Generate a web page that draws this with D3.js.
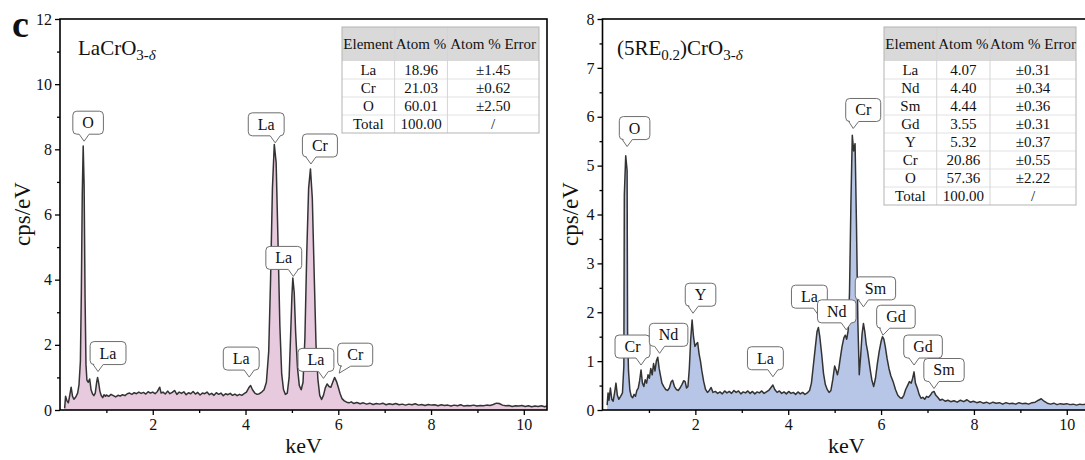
<!DOCTYPE html>
<html>
<head>
<meta charset="utf-8">
<script src="https://cdn.jsdelivr.net/npm/d3@7"></script>
<style>
	body { margin: 0; background: #fff; }
	svg { display: block; font-family: "Liberation Serif", "Times New Roman", serif; }
</style>
</head>
<body>
<div id="wrapper"></div>
<script>
// EDS spectra: [keV, cps/eV]
const laSpectrum = [
	[0.10,0.05],[0.12,0.42],[0.15,0.28],[0.18,0.22],[0.21,0.45],[0.24,0.70],[0.27,0.42],[0.30,0.33],
	[0.34,0.40],[0.38,0.52],[0.41,0.78],[0.44,1.5],[0.46,3.6],[0.48,6.6],[0.50,8.1],[0.52,6.9],
	[0.54,3.5],[0.56,1.4],[0.58,0.92],[0.61,0.85],[0.64,0.95],[0.67,0.62],[0.70,0.50],[0.73,0.44],
	[0.76,0.52],[0.79,0.85],[0.81,1.00],[0.83,0.86],[0.86,0.58],[0.89,0.44],[0.92,0.38],[0.95,0.47],
	[0.98,0.42],[1.00,0.46],[1.05,0.42],[1.10,0.48],[1.15,0.44],[1.20,0.40],[1.25,0.45],[1.30,0.43],
	[1.35,0.47],[1.40,0.44],[1.45,0.50],[1.50,0.52],[1.55,0.48],[1.60,0.53],[1.65,0.50],[1.70,0.55],
	[1.75,0.51],[1.80,0.54],[1.85,0.49],[1.90,0.56],[1.95,0.52],[2.00,0.55],[2.05,0.50],[2.10,0.57],
	[2.15,0.70],[2.18,0.52],[2.22,0.55],[2.27,0.49],[2.32,0.58],[2.37,0.50],[2.42,0.54],[2.47,0.60],
	[2.52,0.48],[2.57,0.55],[2.62,0.51],[2.67,0.56],[2.72,0.47],[2.77,0.53],[2.82,0.50],[2.87,0.57],
	[2.92,0.49],[2.97,0.54],[3.02,0.46],[3.07,0.52],[3.12,0.50],[3.17,0.55],[3.22,0.47],[3.27,0.51],
	[3.32,0.45],[3.37,0.53],[3.42,0.48],[3.47,0.52],[3.52,0.44],[3.57,0.50],[3.62,0.47],[3.67,0.51],
	[3.72,0.45],[3.77,0.49],[3.82,0.44],[3.87,0.48],[3.92,0.45],[3.97,0.50],[4.02,0.55],[4.07,0.68],
	[4.11,0.75],[4.15,0.62],[4.20,0.52],[4.25,0.48],[4.30,0.50],[4.35,0.55],[4.40,0.62],[4.45,0.85],
	[4.50,1.8],[4.54,4.0],[4.58,6.8],[4.62,8.15],[4.66,7.6],[4.70,5.2],[4.74,2.6],[4.78,1.1],
	[4.82,0.62],[4.86,0.48],[4.90,0.52],[4.94,1.0],[4.97,2.2],[5.00,3.5],[5.02,4.05],[5.05,3.6],
	[5.08,2.4],[5.12,1.3],[5.16,0.75],[5.20,0.62],[5.24,0.85],[5.28,2.2],[5.32,4.8],[5.36,6.8],
	[5.40,7.4],[5.44,6.5],[5.48,4.2],[5.52,2.0],[5.56,0.95],[5.60,0.45],[5.64,0.32],[5.68,0.45],
	[5.72,0.68],[5.76,0.80],[5.80,0.72],[5.84,0.70],[5.88,0.85],[5.92,1.00],[5.96,0.88],[6.00,0.70],
	[6.04,0.50],[6.08,0.35],[6.13,0.28],[6.18,0.24],[6.23,0.22],[6.28,0.25],[6.33,0.20],[6.40,0.23],
	[6.47,0.19],[6.54,0.22],[6.61,0.18],[6.68,0.21],[6.75,0.17],[6.82,0.20],[6.89,0.18],[6.96,0.21],
	[7.03,0.16],[7.10,0.19],[7.17,0.17],[7.24,0.20],[7.31,0.16],[7.38,0.18],[7.45,0.15],[7.52,0.18],
	[7.59,0.16],[7.66,0.19],[7.73,0.15],[7.80,0.17],[7.87,0.14],[7.94,0.17],[8.01,0.15],[8.08,0.16],
	[8.15,0.13],[8.22,0.16],[8.29,0.14],[8.36,0.15],[8.43,0.12],[8.50,0.15],[8.57,0.13],[8.64,0.16],
	[8.71,0.12],[8.78,0.14],[8.85,0.13],[8.92,0.15],[8.99,0.12],[9.06,0.14],[9.13,0.13],[9.20,0.15],
	[9.27,0.14],[9.34,0.17],[9.41,0.21],[9.47,0.20],[9.54,0.15],[9.61,0.13],[9.68,0.14],[9.75,0.11],
	[9.82,0.13],[9.89,0.12],[9.96,0.14],[10.03,0.11],[10.10,0.13],[10.17,0.10],[10.24,0.12],[10.31,0.11],
	[10.38,0.13],[10.45,0.10],[10.50,0.12],
];

const reSpectrum = [
	[0.10,0.10],[0.12,0.35],[0.14,0.20],[0.17,0.45],[0.20,0.22],[0.23,0.18],[0.26,0.35],[0.29,0.55],
	[0.32,0.30],[0.35,0.22],[0.39,0.28],[0.43,0.35],[0.46,0.9],[0.47,4.4],[0.50,5.2],[0.53,4.9],
	[0.54,1.6],[0.56,0.8],[0.59,0.40],[0.62,0.28],[0.65,0.25],[0.68,0.32],[0.71,0.28],[0.74,0.40],
	[0.77,0.45],[0.80,0.60],[0.83,0.82],[0.86,0.55],[0.89,0.48],[0.92,0.62],[0.95,0.55],[0.98,0.72],
	[1.01,0.65],[1.04,0.85],[1.07,0.72],[1.10,0.95],[1.13,0.80],[1.16,1.00],[1.19,1.08],[1.22,0.85],
	[1.25,0.70],[1.28,0.55],[1.32,0.48],[1.36,0.42],[1.40,0.40],[1.44,0.45],[1.48,0.58],[1.51,0.61],
	[1.55,0.48],[1.59,0.42],[1.63,0.40],[1.67,0.45],[1.71,0.52],[1.75,0.60],[1.78,0.58],[1.81,0.45],
	[1.84,0.48],[1.87,0.85],[1.90,1.45],[1.93,1.84],[1.96,1.50],[1.99,1.30],[2.02,1.35],[2.05,1.38],
	[2.08,1.15],[2.11,1.00],[2.14,0.80],[2.18,0.58],[2.22,0.42],[2.26,0.36],[2.30,0.40],[2.34,0.46],
	[2.38,0.36],[2.43,0.38],[2.48,0.34],[2.53,0.37],[2.58,0.33],[2.63,0.39],[2.68,0.35],[2.73,0.38],
	[2.78,0.34],[2.83,0.40],[2.88,0.36],[2.93,0.39],[2.98,0.33],[3.03,0.37],[3.08,0.35],[3.13,0.39],
	[3.18,0.34],[3.23,0.38],[3.28,0.33],[3.33,0.37],[3.38,0.35],[3.43,0.39],[3.48,0.34],[3.53,0.37],
	[3.58,0.40],[3.63,0.46],[3.67,0.51],[3.71,0.42],[3.76,0.36],[3.81,0.39],[3.86,0.34],[3.91,0.37],
	[3.96,0.33],[4.01,0.38],[4.06,0.34],[4.11,0.36],[4.16,0.32],[4.21,0.37],[4.26,0.33],[4.31,0.36],
	[4.36,0.32],[4.41,0.35],[4.46,0.40],[4.50,0.55],[4.54,0.90],[4.58,1.25],[4.62,1.60],[4.65,1.69],
	[4.68,1.50],[4.72,1.15],[4.76,0.75],[4.80,0.52],[4.84,0.42],[4.88,0.36],[4.92,0.40],[4.96,0.62],
	[5.00,0.90],[5.03,0.82],[5.06,0.72],[5.09,0.85],[5.12,1.05],[5.16,1.30],[5.20,1.48],[5.23,1.53],
	[5.26,1.45],[5.29,1.62],[5.32,2.4],[5.35,4.2],[5.38,5.62],[5.41,5.3],[5.44,5.45],[5.47,3.8],
	[5.50,1.8],[5.53,0.72],[5.56,1.10],[5.59,1.55],[5.62,1.77],[5.65,1.60],[5.68,1.35],[5.71,1.20],
	[5.74,1.00],[5.77,0.80],[5.80,0.62],[5.84,0.48],[5.88,0.65],[5.92,0.95],[5.96,1.20],[6.00,1.40],
	[6.03,1.50],[6.06,1.45],[6.09,1.30],[6.13,1.05],[6.17,0.85],[6.21,0.70],[6.26,0.58],[6.31,0.42],
	[6.36,0.30],[6.41,0.25],[6.45,0.24],[6.49,0.30],[6.53,0.42],[6.57,0.50],[6.61,0.58],[6.65,0.55],
	[6.68,0.65],[6.71,0.78],[6.74,0.55],[6.78,0.45],[6.82,0.32],[6.86,0.24],[6.90,0.26],[6.94,0.22],
	[6.98,0.28],[7.02,0.26],[7.06,0.30],[7.10,0.36],[7.14,0.38],[7.18,0.30],[7.22,0.26],[7.27,0.20],
	[7.32,0.22],[7.38,0.18],[7.44,0.20],[7.50,0.17],[7.57,0.19],[7.64,0.16],[7.71,0.20],[7.78,0.17],
	[7.85,0.21],[7.92,0.16],[7.99,0.18],[8.06,0.15],[8.13,0.17],[8.20,0.14],[8.27,0.16],[8.34,0.13],
	[8.41,0.16],[8.48,0.14],[8.55,0.15],[8.62,0.12],[8.69,0.15],[8.76,0.13],[8.83,0.14],[8.90,0.12],
	[8.97,0.15],[9.04,0.13],[9.11,0.14],[9.18,0.12],[9.25,0.15],[9.32,0.16],[9.39,0.20],[9.45,0.23],
	[9.51,0.18],[9.58,0.14],[9.65,0.12],[9.72,0.14],[9.79,0.11],[9.86,0.13],[9.93,0.12],[10.00,0.13],
	[10.07,0.11],[10.14,0.12],[10.21,0.10],[10.28,0.12],[10.35,0.11],[10.42,0.12],[10.50,0.10],
];

// peak labels: element, keV and cps/eV of the pointer tip
const laLabels = ["O", "La", "Cr", "La", "La", "La", "La", "Cr"];
const laLabelKeV = [0.52, 4.64, 5.41, 5.03, 0.82, 4.08, 5.68, 6.02];
const laLabelCps = [8.25, 8.2, 7.55, 4.1, 1.18, 1.01, 0.97, 1.13];

const reLabels = ["O", "Cr", "Cr", "Nd", "Y", "La", "La", "Nd", "Sm", "Gd", "Gd", "Sm"];
const reLabelKeV = [0.53, 5.40, 0.83, 1.23, 1.95, 3.67, 4.65, 5.25, 5.62, 6.04, 6.71, 7.14];
const reLabelCps = [5.39, 5.76, 0.92, 1.16, 1.98, 0.68, 1.94, 1.64, 2.11, 1.53, 0.92, 0.44];

// composition tables
const tableHeader = ["Element", "Atom %", "Atom % Error"];
const laElements = ["La", "Cr", "O", "Total"];
const laAtom = ["18.96", "21.03", "60.01", "100.00"];
const laError = ["±1.45", "±0.62", "±2.50", "/"];
const reElements = ["La", "Nd", "Sm", "Gd", "Y", "Cr", "O", "Total"];
const reAtom = ["4.07", "4.40", "4.44", "3.55", "5.32", "20.86", "57.36", "100.00"];
const reError = ["±0.31", "±0.34", "±0.36", "±0.31", "±0.37", "±0.55", "±2.22", "/"];

const xMajorTicks = [2, 4, 6, 8, 10];
const xMinorTicks = [1, 3, 5, 7, 9];
const laYTicks = [0, 2, 4, 6, 8, 10, 12];
const laYMinor = [1, 3, 5, 7, 9, 11];
const reYTicks = [0, 1, 2, 3, 4, 5, 6, 7, 8];
const reYMinor = [0.5, 1.5, 2.5, 3.5, 4.5, 5.5, 6.5, 7.5];

// box offsets of the callouts (box centre minus pointer tip, px)
const laShift = [4, -9, 9, -9.5, 10, -8, -7.5, 16];
const reShift = [7.5, 10, -8.5, 9, 7.5, -7.5, -9, -9.5, 12, 13, 9, 10];

const dimensions = { width: 1085, height: 460, top: 19, bottom: 410 };

const svg = d3
	.select("#wrapper")
	.append("svg")
	.attr("width", dimensions.width)
	.attr("height", dimensions.height);

const panels = [
	{
		id: "la", left: 60, right: 547, yMax: 12,
		yTicks: laYTicks, yMinor: laYMinor,
		data: laSpectrum, fill: "#e8cade",
		labels: laLabels, labelKeV: laLabelKeV, labelCps: laLabelCps, shift: laShift,
		table: { x: 342, widths: [52.6, 52.8, 91.6], cols: [laElements, laAtom, laError] },
		title: [["LaCrO", 0], ["3-", 1], ["δ", 2]],
		titleX: 78, yLabelX: 22,
	},
	{
		id: "re", left: 602.5, right: 1090, yMax: 8,
		yTicks: reYTicks, yMinor: reYMinor,
		data: reSpectrum, fill: "#b7c6e6",
		labels: reLabels, labelKeV: reLabelKeV, labelCps: reLabelCps, shift: reShift,
		table: { x: 884, widths: [52.7, 53.3, 86], cols: [reElements, reAtom, reError] },
		title: [["(5RE", 0], ["0.2", 1], [")CrO", 0], ["3-", 1], ["δ", 2]],
		titleX: 617, yLabelX: 570,
	},
];

const drawPanel = (p) => {
	const xScale = d3.scaleLinear().domain([0, 10.5]).range([p.left, p.right]);
	const yScale = d3.scaleLinear().domain([0, p.yMax]).range([dimensions.bottom, dimensions.top]);

	const g = svg.append("g");

	g.append("clipPath")
		.attr("id", `clip-${p.id}`)
		.append("rect")
		.attr("x", p.left)
		.attr("y", dimensions.top)
		.attr("width", p.right - p.left)
		.attr("height", dimensions.bottom - dimensions.top);

	const plot = g.append("g").attr("clip-path", `url(#clip-${p.id})`);

	const areaGenerator = d3
		.area()
		.x((d) => xScale(d[0]))
		.y0(yScale(0))
		.y1((d) => yScale(d[1]));
	const lineGenerator = d3
		.line()
		.x((d) => xScale(d[0]))
		.y((d) => yScale(d[1]));

	plot.append("path").attr("d", areaGenerator(p.data)).attr("fill", p.fill);
	plot.append("path")
		.attr("d", lineGenerator(p.data))
		.attr("fill", "none")
		.attr("stroke", "#333")
		.attr("stroke-width", 1.5)
		.attr("stroke-linejoin", "round");

	// axes
	const styleAxis = (sel) => {
		sel.select(".domain").remove();
		sel.selectAll("line").attr("stroke", "#000").attr("stroke-width", 1.3);
		sel.selectAll("text")
			.attr("font-family", "'Liberation Serif', serif")
			.attr("font-size", 16)
			.attr("fill", "#111");
	};

	g.append("g")
		.attr("transform", `translate(0, ${dimensions.bottom})`)
		.call(d3.axisBottom(xScale).tickValues(xMajorTicks).tickSize(5).tickPadding(4).tickFormat(d3.format("d")))
		.call(styleAxis);
	g.append("g")
		.attr("transform", `translate(0, ${dimensions.bottom})`)
		.call(d3.axisBottom(xScale).tickValues(xMinorTicks).tickSize(3).tickFormat(""))
		.call(styleAxis);
	g.append("g")
		.attr("transform", `translate(${p.left}, 0)`)
		.call(d3.axisLeft(yScale).tickValues(p.yTicks).tickSize(5).tickPadding(3).tickFormat(d3.format("d")))
		.call(styleAxis);
	g.append("g")
		.attr("transform", `translate(${p.left}, 0)`)
		.call(d3.axisLeft(yScale).tickValues(p.yMinor).tickSize(3).tickFormat(""))
		.call(styleAxis);

	g.append("rect")
		.attr("x", p.left)
		.attr("y", dimensions.top)
		.attr("width", p.right - p.left)
		.attr("height", dimensions.bottom - dimensions.top)
		.attr("fill", "none")
		.attr("stroke", "#000")
		.attr("stroke-width", 1.6);

	// axis titles
	g.append("text")
		.attr("transform", `translate(${p.yLabelX + 8}, 214) rotate(-90)`)
		.attr("text-anchor", "middle")
		.attr("font-size", 23)
		.attr("fill", "#111")
		.text("cps/eV");
	g.append("text")
		.attr("x", (p.left + p.right) / 2)
		.attr("y", 453)
		.attr("text-anchor", "middle")
		.attr("font-size", 22)
		.attr("fill", "#111")
		.text("keV");

	// sample name
	const title = g.append("text").attr("x", p.titleX).attr("y", 55).attr("font-size", 21).attr("fill", "#111");
	let level = 0;
	p.title.forEach(([txt, kind]) => {
		const t = title.append("tspan").text(txt);
		const target = kind === 0 ? 0 : 1;
		if (target !== level) t.attr("dy", target ? 5 : -5);
		level = target;
		if (kind > 0) t.attr("font-size", 15);
		if (kind === 2) t.attr("font-style", "italic");
	});

	// composition table
	const tbl = g.append("g");
	const headH = 34;
	const rowH = 18;
	const nRows = p.table.cols[0].length;
	const tblW = d3.sum(p.table.widths);
	const tblTop = 27;
	const colX = p.table.widths.reduce((acc, w) => [...acc, acc[acc.length - 1] + w], [p.table.x]);

	tbl.append("rect")
		.attr("x", p.table.x).attr("y", tblTop)
		.attr("width", tblW).attr("height", headH + rowH * nRows)
		.attr("fill", "#fff");
	tbl.append("rect")
		.attr("x", p.table.x).attr("y", tblTop)
		.attr("width", tblW).attr("height", headH)
		.attr("fill", "#d9d9d9");
	d3.range(1, nRows).forEach((i) => {
		tbl.append("line")
			.attr("x1", p.table.x).attr("x2", p.table.x + tblW)
			.attr("y1", tblTop + headH + i * rowH).attr("y2", tblTop + headH + i * rowH)
			.attr("stroke", "#e2e2e2");
	});
	colX.slice(1, -1).forEach((cx) => {
		tbl.append("line")
			.attr("x1", cx).attr("x2", cx)
			.attr("y1", tblTop).attr("y2", tblTop + headH + rowH * nRows)
			.attr("stroke", "#d4d4d4");
	});
	tbl.append("rect")
		.attr("x", p.table.x).attr("y", tblTop)
		.attr("width", tblW).attr("height", headH + rowH * nRows)
		.attr("fill", "none")
		.attr("stroke", "#b4b4b4");

	tableHeader.forEach((h, c) => {
		tbl.append("text")
			.attr("x", (colX[c] + colX[c + 1]) / 2)
			.attr("y", tblTop + headH / 2 + 5)
			.attr("text-anchor", "middle")
			.attr("font-size", 15)
			.attr("fill", "#111")
			.text(h);
	});
	p.table.cols.forEach((col, c) => {
		col.forEach((v, r) => {
			tbl.append("text")
				.attr("x", (colX[c] + colX[c + 1]) / 2)
				.attr("y", tblTop + headH + r * rowH + rowH / 2 + 5)
				.attr("text-anchor", "middle")
				.attr("font-size", 15)
				.attr("fill", "#111")
				.text(v);
		});
	});

	// peak callouts
	p.labels.forEach((label, i) => {
		const tipX = xScale(p.labelKeV[i]);
		const tipY = yScale(p.labelCps[i]);
		const cg = g.append("g");
		const shape = cg.append("path");
		const text = cg.append("text")
			.attr("font-size", 16)
			.attr("fill", "#111")
			.attr("text-anchor", "middle")
			.text(label);
		const w = text.node().getComputedTextLength() + 19;
		const h = 23;
		const cx = tipX + p.shift[i];
		const left = cx - w / 2;
		const right = cx + w / 2;
		const bottom = tipY - 7;
		const top = bottom - h;
		const bx = Math.max(left + 8, Math.min(right - 8, tipX));
		const r = 4;
		const path = d3.path();
		path.moveTo(left + r, top);
		path.arcTo(right, top, right, top + r, r);
		path.arcTo(right, bottom, right - r, bottom, r);
		path.lineTo(bx + 5, bottom);
		path.lineTo(tipX, tipY);
		path.lineTo(bx - 5, bottom);
		path.arcTo(left, bottom, left, bottom - r, r);
		path.arcTo(left, top, left + r, top, r);
		path.closePath();
		shape.attr("d", path.toString())
			.attr("fill", "#fff")
			.attr("stroke", "#6e6e6e")
			.attr("stroke-width", 1);
		text.attr("x", cx).attr("y", top + h / 2 + 5.5);
	});
};

panels.forEach(drawPanel);

svg.append("text")
	.attr("x", 12)
	.attr("y", 37)
	.attr("font-size", 38)
	.attr("font-weight", "bold")
	.attr("fill", "#111")
	.text("c");
</script>
</body>
</html>
